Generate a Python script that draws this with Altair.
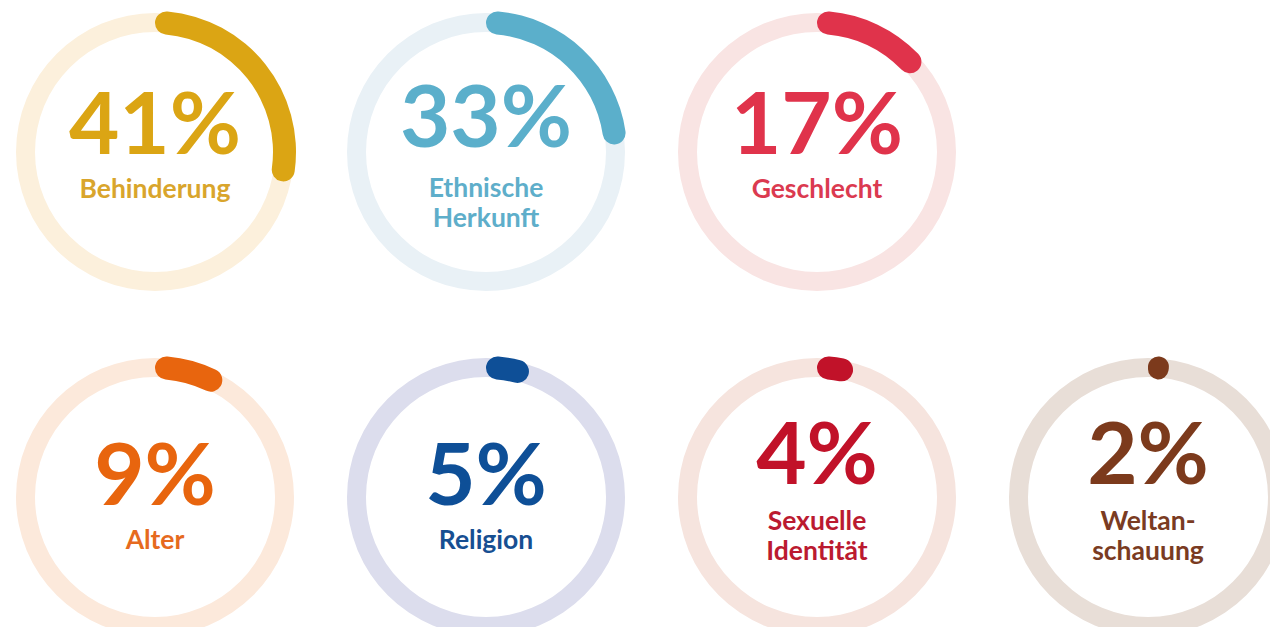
import altair as alt
import pandas as pd

categories = ["Behinderung", "Ethnische Herkunft", "Geschlecht", "Alter",
              "Religion", "Sexuelle Identität", "Weltanschauung"]
label_lines = [["Behinderung"], ["Ethnische", "Herkunft"], ["Geschlecht"], ["Alter"],
               ["Religion"], ["Sexuelle", "Identität"], ["Weltan-", "schauung"]]
values = [41, 33, 17, 9, 5, 4, 2]
grid_col = [0, 1, 2, 0, 1, 2, 3]
grid_row = [0, 0, 0, 1, 1, 1, 1]

arc_colors = ["#DBA514", "#5BAFCB", "#E0334B", "#E8650E", "#0E4F97", "#C11229", "#7C3A1C"]
text_colors = ["#D9A52C", "#5EAECA", "#DB3A50", "#E66A1E", "#174F92", "#BB1A30", "#7A3B22"]
ring_colors = ["#FCF0DC", "#E9F1F6", "#F9E4E3", "#FCE9DB", "#DCDDED", "#F6E4DE", "#E8DED7"]

df = pd.DataFrame({
    "category": categories,
    "label": label_lines,
    "value": values,
    "col": grid_col,
    "row": grid_row,
})

X = alt.X("col:Q", scale=alt.Scale(domain=[0, 3], range=[147, 1140]), axis=None)
Y = alt.Y("row:Q", scale=alt.Scale(domain=[0, 1], range=[144, 489]), axis=None)
arc_color = alt.Color("category:N", scale=alt.Scale(domain=categories, range=arc_colors), legend=None)
txt_color = alt.Color("category:N", scale=alt.Scale(domain=categories, range=text_colors), legend=None)
ring_color = alt.Color("category:N", scale=alt.Scale(domain=categories, range=ring_colors), legend=None)

base = alt.Chart(df).transform_calculate(
    start="0",
    pct="datum.value + '%'",
    nlines="length(datum.label)",
)

ring = base.mark_arc(radius=139, radius2=120, theta=0, theta2=6.2832).encode(
    x=X, y=Y, color=ring_color
)

theta_scale = alt.Scale(type="pow", exponent=0.8, domain=[0, 100], range=[0, 3.67])
progress = base.mark_arc(radius=141, radius2=118, cornerRadius=11.5).encode(
    x=X, y=Y,
    theta=alt.Theta("start:Q", scale=theta_scale),
    theta2="value:Q",
    color=arc_color,
)

# text offsets (px from the circle centre) per row and number of label lines
offsets = {
    (0, 1): (2, 46, 30),
    (0, 2): (-5, 45, 30),
    (1, 1): (8, 52, 30),
    (1, 2): (-13, 33, 30),
}

layers = [ring, progress]
for (r, n), (dy_pct, dy_lab, lh) in offsets.items():
    sub = base.transform_filter(f"datum.row == {r} && datum.nlines == {n}")
    layers.append(sub.mark_text(font="Lato", fontWeight="bold", fontSize=87,
                                align="center", baseline="alphabetic", dy=dy_pct).encode(
        x=X, y=Y, text="pct:N", color=arc_color))
    layers.append(sub.mark_text(font="Lato", fontWeight="bold", fontSize=26.5,
                                align="center", baseline="alphabetic", dy=dy_lab,
                                lineHeight=lh).encode(
        x=X, y=Y, text="label", color=txt_color))

chart = alt.layer(*layers).resolve_scale(color="independent").properties(
    width=1262, height=619, padding=0,
    autosize=alt.AutoSizeParams(type="none"),
).configure_view(strokeWidth=0, stroke=None, fill=None)

chart.save("out.html", embed_options={"renderer": "svg", "actions": False})
